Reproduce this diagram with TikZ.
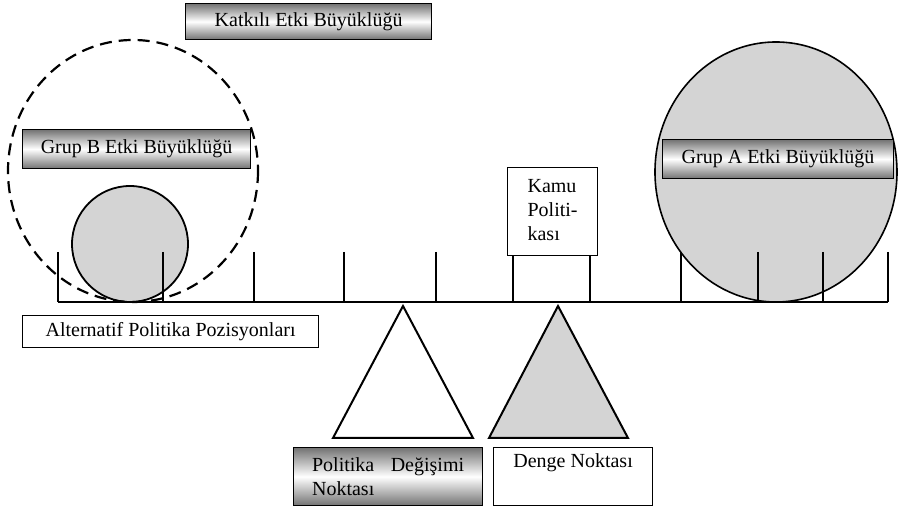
\documentclass[tikz,border=0pt]{standalone}
\usepackage{fontspec}
\setmainfont{Liberation Serif}

\tikzset{
  kutu/.style={draw, line width=0.6pt, inner sep=0pt, anchor=north west},
  golgekutu/.style={kutu, top color=black!55, bottom color=black!55, middle color=white},
  kol/.style={line width=1pt},
}

\begin{document}
\begin{tikzpicture}[x=0.5pt, y=-0.5pt]
		\useasboundingbox (0,0) rectangle (901,506);

		% etki daireleri
		\filldraw[fill=black!17, line width=0.8pt] (776,172) ellipse [x radius=121, y radius=130];
		\filldraw[fill=black!17, line width=0.9pt] (130,244) circle [radius=58];
		\draw[line width=1.1pt, dash pattern=on 6pt off 3.5pt] (133,171) ellipse [x radius=125, y radius=131];

		% terazi kolu
		\draw[line width=1.4pt] (58,302) -- (888,302);
		\foreach \x in {58,163,254,344,436,513,590,681,758,823,888}
		  \draw[kol] (\x,252) -- (\x,302);

		% destek noktalari
		\draw[line width=1pt] (403,306) -- (473,438) -- (333,438) -- cycle;
		\filldraw[fill=black!17, line width=1pt] (558,306) -- (628,438) -- (489,438) -- cycle;

		% etiketler
		\node[golgekutu, minimum width=123pt, minimum height=18pt] (katkili) at (185,3) {Katkılı Etki Büyüklüğü};
		\node[golgekutu, minimum width=114pt, minimum height=19.5pt] (grupb) at (22,129) {Grup B Etki Büyüklüğü};
		\node[golgekutu, minimum width=115.5pt, minimum height=19.5pt] (grupa) at (662,139) {Grup A Etki Büyüklüğü};
		\node[kutu, fill=white, minimum width=45pt, minimum height=44pt] (kamu) at (507,167) {\begin{tabular}{@{}l@{}}Kamu\\ Politi-\\ kası\end{tabular}};
		\node[kutu, fill=white, minimum width=148pt, minimum height=16pt] (alternatif) at (22,315) {Alternatif Politika Pozisyonları};
		\node[golgekutu, minimum width=94.5pt, minimum height=29pt, text width=76pt, align=justify] (degisim) at (293,447) {Politika Değişimi Noktası};
		\node[kutu, fill=white, minimum width=79.5pt, minimum height=29pt, align=center] (denge) at (493,447) {Denge Noktası\\ \strut};
\end{tikzpicture}
\end{document}
